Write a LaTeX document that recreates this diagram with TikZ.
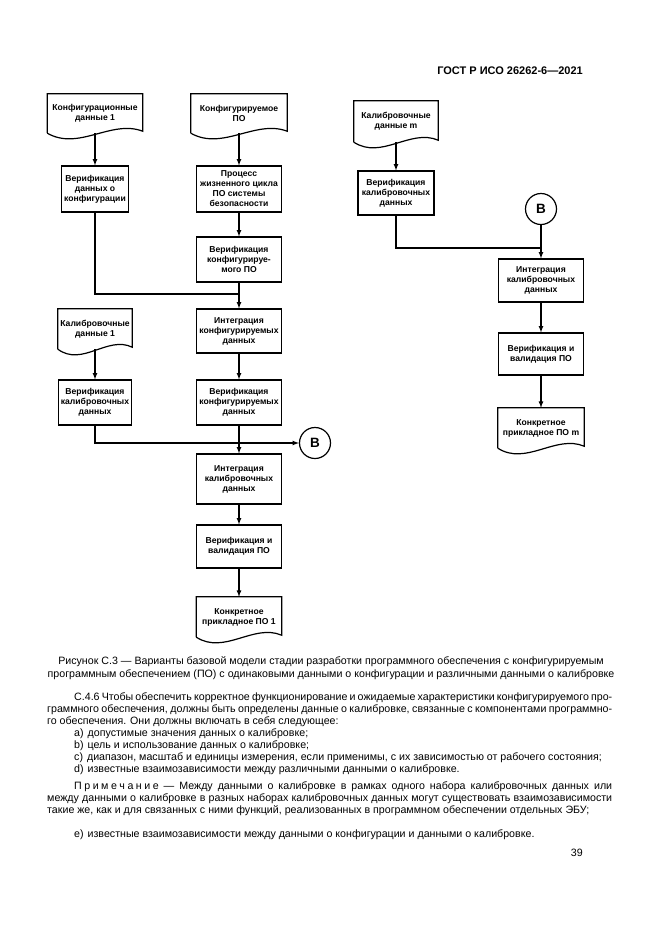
\documentclass[tikz,border=0pt]{standalone}
\usepackage{fontspec}
\setmainfont{Liberation Sans}
\usetikzlibrary{calc}
\usetikzlibrary{arrows}
\usetikzlibrary{shapes}

% rectangle with a wavy bottom, drawn round a node
\newcommand\docwave[1]{%
  \draw[line width=1.2pt] (#1.south west) -- (#1.north west) -- (#1.north east) -- ($(#1.south east)+(0,-2)$)
    .. controls ($(#1.south west)!0.67!(#1.south east)+(0,-14)$) and ($(#1.south west)!0.33!(#1.south east)+(0,18)$) .. (#1.south west);}

\begin{document}
\begin{tikzpicture}[x=1pt,y=-1pt]
\tikzstyle{every node}=[font=\fontsize{8.6}{10}\selectfont\bfseries]
\tikzstyle{proc}=[draw, line width=1.2pt, align=center, inner sep=0pt, minimum width=85, minimum height=45]
\tikzstyle{doc}=[align=center, inner sep=0pt, minimum width=85, minimum height=40]
\tikzstyle{conn}=[draw, circle, line width=1.2pt, minimum size=31, inner sep=0pt, font=\fontsize{13.5}{14}\selectfont\bfseries]
\tikzstyle{txt}=[font=\fontsize{10.65}{12}\selectfont, inner sep=0pt, anchor=base west]
\tikzstyle{flow}=[line width=1.2pt, -latex]

\useasboundingbox (0,0) rectangle (661,935);

% Titre
\node[font=\fontsize{11}{12}\selectfont\bfseries, inner sep=0pt, anchor=base east] (hdr) at (583,74) {ГОСТ Р ИСО 26262-6—2021};

%=== Colonne gauche
\node[doc, minimum width=95, minimum height=39] (cfg1) at (95,113.5) {Конфигурационные\\данные 1};
\docwave{cfg1}
\node[proc, minimum width=67, minimum height=46] (vcfg) at (95,189) {Верификация\\данных о\\конфигурации};
\node[doc, minimum width=74] (cal1) at (95,329) {Калибровочные\\данные 1};
\docwave{cal1}
\node[proc, minimum width=73] (vcal1) at (95,402.5) {Верификация\\калибровочных\\данных};

%=== Colonne du milieu
\node[doc, minimum width=96, minimum height=39] (cfgsw) at (239,113.5) {Конфигурируемое\\ПО};
\docwave{cfgsw}
\node[proc, minimum height=46] (lcyc) at (239,189) {Процесс\\жизненного цикла\\ПО системы\\безопасности};
\node[proc] (vsw) at (239,259.5) {Верификация\\конфигурируе-\\мого ПО};
\node[proc, minimum height=44] (intcfg) at (239,331) {Интеграция\\конфигурируемых\\данных};
\node[proc] (vcfgd) at (239,402.5) {Верификация\\конфигурируемых\\данных};
\node[proc, minimum height=50] (intcal) at (239,479) {Интеграция\\калибровочных\\данных};
\node[proc, minimum height=43] (vval) at (239,546.5) {Верификация и\\валидация ПО};
\node[doc] (app1) at (239,617) {Конкретное\\прикладное ПО 1};
\docwave{app1}
\node[conn] (B1) at (315,443) {В};

%=== Colonne droite
\node[doc, minimum width=84, minimum height=41] (calm) at (396,121.5) {Калибровочные\\данные m};
\docwave{calm}
\node[proc, minimum width=76, minimum height=44] (vcalm) at (396,193) {Верификация\\калибровочных\\данных};
\node[conn] (B2) at (541,209) {В};
\node[proc, minimum height=43] (intcalm) at (541,280.5) {Интеграция\\калибровочных\\данных};
\node[proc, minimum height=42] (vvalm) at (541,354) {Верификация и\\валидация ПО};
\node[doc, minimum width=86] (appm) at (541,428) {Конкретное\\прикладное ПО m};
\docwave{appm}

% Liaisons
\coordinate (m1) at (239,294);
\coordinate (m2) at (541,248);
\draw[flow] (cfg1) -- (vcfg);
\draw[flow] (cfgsw) -- (lcyc);
\draw[flow] (lcyc) -- (vsw);
\draw[line width=1.2pt] (vcfg) |- (m1);
\draw[flow] (vsw) -- (intcfg);
\draw[flow] (intcfg) -- (vcfgd);
\draw[flow] (cal1) -- (vcal1);
\draw[flow] (vcal1) |- (B1);
\draw[flow] (vcfgd) -- (intcal);
\draw[flow] (intcal) -- (vval);
\draw[flow] (vval) -- (app1);
\draw[flow] (calm) -- (vcalm);
\draw[line width=1.2pt] (vcalm) |- (m2);
\draw[flow] (B2) -- (intcalm);
\draw[flow] (intcalm) -- (vvalm);
\draw[flow] (vvalm) -- (appm);

%=== Texte
\node[txt, anchor=base] (cap1) at (331,664) {Рисунок С.3 — Варианты базовой модели стадии разработки программного обеспечения с конфигурируемым};
\node[txt, anchor=base] (cap2) at (331,677) {программным обеспечением (ПО) с одинаковыми данными о конфигурации и различными данными о калибровке};

\node[txt] (p1) at (74,700) {\makebox[538pt][s]{С.4.6 Чтобы обеспечить корректное функционирование и ожидаемые характеристики конфигурируемого про-}};
\node[txt] (p2) at (47,712) {\makebox[565pt][s]{граммного обеспечения, должны быть определены данные о калибровке, связанные с компонентами программно-}};
\node[txt] (p3) at (47,724) {го обеспечения. Они должны включать в себя следующее:};
\node[txt] (la) at (74,736) {a)\hspace{4pt}допустимые значения данных о калибровке;};
\node[txt] (lb) at (74,748) {b)\hspace{4pt}цель и использование данных о калибровке;};
\node[txt] (lc) at (74,760) {c)\hspace{4pt}диапазон, масштаб и единицы измерения, если применимы, с их зависимостью от рабочего состояния;};
\node[txt] (ld) at (74,772) {d)\hspace{4pt}известные взаимозависимости между различными данными о калибровке.};

\node[txt] (n1) at (74,789) {\makebox[538pt][s]{П\hspace{2.5pt}р\hspace{2.5pt}и\hspace{2.5pt}м\hspace{2.5pt}е\hspace{2.5pt}ч\hspace{2.5pt}а\hspace{2.5pt}н\hspace{2.5pt}и\hspace{2.5pt}е — Между данными о калибровке в рамках одного набора калибровочных данных или}};
\node[txt] (n2) at (47,801) {\makebox[565pt][s]{между данными о калибровке в разных наборах калибровочных данных могут существовать взаимозависимости}};
\node[txt] (n3) at (47,813) {такие же, как и для связанных с ними функций, реализованных в программном обеспечении отдельных ЭБУ;};

\node[txt] (le) at (74,837) {e)\hspace{4pt}известные взаимозависимости между данными о конфигурации и данными о калибровке.};
\node[txt, anchor=base east] (pg) at (583,856) {39};
\end{tikzpicture}
\end{document}
